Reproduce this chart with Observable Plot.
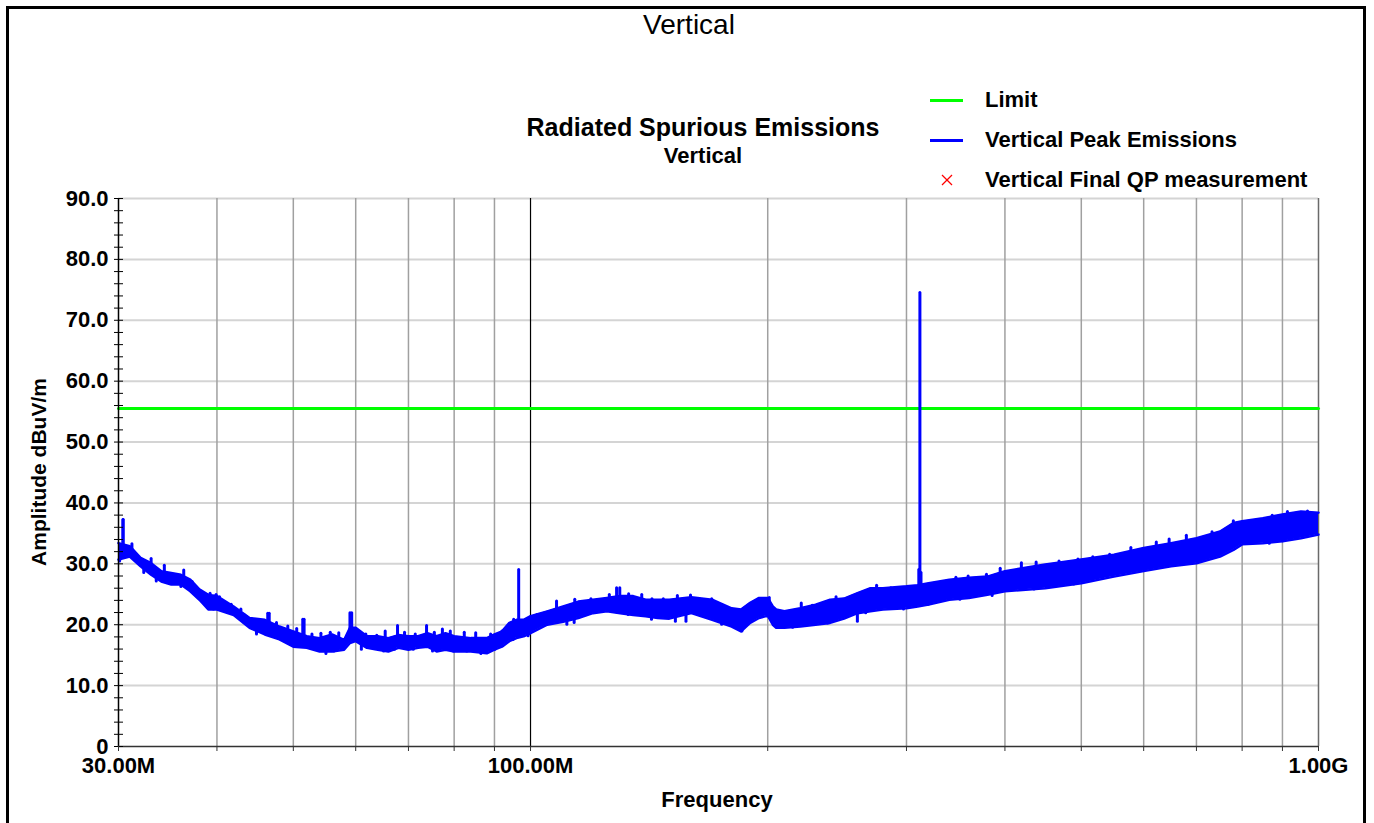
<!DOCTYPE html>
<html><head><meta charset="utf-8">
<script src="https://cdn.jsdelivr.net/npm/d3@7"></script>
<script src="https://cdn.jsdelivr.net/npm/@observablehq/plot@0.6"></script>
<style>
html,body{margin:0;padding:0;background:#fff;}
#wrap{position:relative;width:1374px;height:823px;overflow:hidden;font-family:"Liberation Sans",Arial,sans-serif;}
#wrap svg{position:absolute;left:0;top:0;}
.border{position:absolute;left:6px;top:6px;width:1354px;height:840px;border:3px solid #000;border-bottom:none;}
.t{position:absolute;white-space:nowrap;color:#000;line-height:1;transform:translate(-50%,-50%);}
.l{position:absolute;white-space:nowrap;color:#000;line-height:1;transform:translate(0,-50%);font-weight:bold;font-size:22px;}
.sw{position:absolute;height:3px;width:33px;}
</style></head><body><div id="wrap"></div>
<script>
// ---- data (MHz, dBuV/m) ----
// envelope of the peak-emission trace
const traceFreq = [30,31,32,33,34,35,36,37,38,39,40,42,44,46,48,50,52,54,56,58,59,60,62,64,66,68,70,72,74,76,78,80,84,88,90,92,94,96,98,100,105,110,115,120,125,130,135,140,145,150,160,170,180,185,190,195,200,203,205,210,220,230,240,250,260,270,280,300,310,320,340,360,380,400,450,500,550,600,650,700,750,780,800,850,900,950,1000];
const traceHigh = [33.4,32.9,31.0,30.1,28.8,28.5,28.2,27.4,25.8,24.9,24.7,23.0,21.1,20.8,19.7,18.9,18.1,17.8,18.4,17.5,19.5,19.5,18.1,18.1,17.8,18.3,18.1,18.1,18.6,18.1,18.6,18.1,17.8,17.8,18.4,18.9,20.3,20.8,20.8,21.4,22.2,23.0,23.8,24.1,24.4,24.7,24.7,24.1,24.1,24.1,24.5,24.1,22.7,22.5,23.6,24.4,24.4,23.0,22.5,22.2,22.7,23.3,24.1,24.3,25.2,26.0,26.0,26.3,26.5,26.8,27.4,27.7,27.9,28.8,29.9,30.7,31.5,32.6,33.4,34.2,35.3,36.7,37.0,37.5,38.1,38.6,38.4];
const traceLow  = [30.7,31.2,29.6,28.2,27.1,26.6,26.6,25.5,24.1,22.5,22.5,21.6,19.5,18.4,17.6,16.4,16.2,15.6,15.6,15.9,17.0,17.3,16.2,15.9,15.6,16.2,15.9,16.2,16.4,15.6,15.9,15.6,15.6,15.3,15.9,16.4,17.3,17.8,18.1,18.6,20.0,20.5,21.1,21.9,22.2,21.9,21.6,21.4,21.1,21.0,21.9,20.8,19.7,18.9,20.3,21.1,21.5,20.0,19.5,19.5,19.7,20.0,20.3,21.0,21.9,22.2,22.5,22.7,23.0,23.3,24.1,24.4,24.9,25.5,26.0,26.8,27.9,28.8,29.6,30.1,31.2,32.3,33.2,33.4,33.7,34.2,34.8];

// individual peaks and dips of the noisy trace
const noiseFreq = [30.1,30.4,31.2,32.3,33.0,33.5,34.3,35.6,36.0,36.3,37.2,37.3,37.6,38.8,39.2,39.6,39.9,40.3,41.7,42.9,43.3,43.6,44.9,46.6,47.6,47.7,49.2,49.4,50.5,50.6,51.6,52.8,53.6,54.2,55.0,55.7,56.3,57.1,57.8,59.3,61.0,61.8,63.8,65.1,65.4,67.2,67.8,69.2,71.0,71.4,73.8,75.1,75.5,77.3,79.1,79.8,82.4,83.0,85.2,86.5,89.0,90.1,92.0,95.0,95.2,99.3,101.9,107.9,111.2,113.6,113.8,119.3,125.9,129.8,133.0,133.2,138.4,142.4,142.6,147.4,152.7,153.6,157.5,159.6,169.8,174.8,177.1,185.5,194.3,200.9,209.6,215.1,220.6,227.8,238.2,244.2,253.5,259.9,264.6,266.3,274.9,286.6,297.4,302.9,319.7,327.4,346.6,350.7,359.2,379.0,385.3,394.5,419.7,435.5,438.2,468.5,489.0,495.1,517.1,543.2,549.9,577.9,622.5,622.7,646.3,679.7,689.4,732.6,772.4,779.7,819.6,866.0,873.5,900.1,913.3,968.3,993.5];
const noiseAmp  = [30.4,37.2,33.2,28.5,30.8,27.1,29.7,28.1,26.2,28.9,27.0,25.5,26.2,24.1,25.1,22.5,24.9,24.5,23.3,22.5,21.6,21.3,18.4,21.8,20.3,18.1,19.7,17.5,19.3,16.4,20.8,18.4,15.9,18.5,15.2,18.7,15.6,18.6,15.9,21.9,15.9,18.4,18.2,15.6,18.9,15.9,19.8,18.7,15.9,18.4,19.8,15.6,18.7,19.2,18.9,15.6,18.7,15.6,18.6,15.2,18.4,15.9,18.9,17.5,20.8,18.1,21.6,23.8,20.0,20.3,24.1,24.2,24.9,26.0,21.6,25.0,24.9,20.8,24.2,24.2,20.5,24.7,20.5,24.8,24.2,20.0,22.7,18.9,24.1,24.4,19.5,19.5,23.5,23.1,20.2,24.5,23.8,20.5,24.9,21.9,26.4,26.0,22.5,26.2,23.3,26.7,27.7,24.1,27.9,28.2,24.7,29.2,30.1,25.8,30.2,30.4,26.6,30.7,31.1,31.5,28.2,32.6,33.5,29.5,34.0,34.6,30.4,35.2,32.6,37.0,36.8,33.3,37.9,33.7,38.5,38.6,34.8];

// narrow emission spikes
const spikeFreq = [30.4,46.4,51.4,59,96.6,128.6,311,312,313];
const spikeBase = [31,19.0,16.8,17.5,18.0,22.0,24.0,24.0,24.0];
const spikePeak = [37.2,21.8,20.8,21.9,29.0,26.0,29.0,74.5,28.5];

const limitFreq = [30, 1000];
const limitLevel = [55.5, 55.5];

const yMajor = [0,10,20,30,40,50,60,70,80,90];
const yTickLabels = ["0","10.0","20.0","30.0","40.0","50.0","60.0","70.0","80.0","90.0"];
const yMinor = [0,2,4,6,8,10,12,14,16,18,20,22,24,26,28,30,32,34,36,38,40,42,44,46,48,50,52,54,56,58,60,62,64,66,68,70,72,74,76,78,80,82,84,86,88,90];
const xGrid = [40,50,60,70,80,90,200,300,400,500,600,700,800,900];
const xTickValues = [30,100,1000];
const xTickLabels = ["30.00M","100.00M","1.00G"];

const seriesNames = ["Limit","Vertical Peak Emissions","Vertical Final QP measurement"];
const seriesColors = ["#00ff00","#0000ff","#ff0000"];

// ---- build ----
const trace = traceFreq.map((f,i)=>({f, hi:traceHigh[i], lo:traceLow[i]}));
// each peak/dip is drawn as a short stroke reaching back into the band (nearest envelope sample)
const nearestBand = f => {
  let best = 0;
  traceFreq.forEach((g,i)=>{ if (Math.abs(Math.log(g/f)) < Math.abs(Math.log(traceFreq[best]/f))) best = i; });
  return (traceHigh[best] + traceLow[best]) / 2;
};
const noise = noiseFreq.map((f,i)=>({f, v:noiseAmp[i], mid:nearestBand(f)}));
const spikes = spikeFreq.map((f,i)=>({f, base:spikeBase[i], peak:spikePeak[i]}));
const limit = limitFreq.map((f,i)=>({f, v:limitLevel[i]}));
const font = "'Liberation Sans', Arial, sans-serif";
const BLUE = "#0000ff";

const chart = Plot.plot({
  width:1374, height:823,
  marginLeft:118, marginRight:56, marginTop:198, marginBottom:77,
  x:{type:"log", domain:[30,1000], label:null},
  y:{domain:[0,90], label:null},
  style:{fontFamily:font, fontSize:"22px", fontWeight:"bold", color:"#000", background:"transparent", overflow:"visible"},
  marks:[
    Plot.ruleY(yMajor.filter(d=>d>0), {stroke:"#d4d4d4", strokeWidth:2, strokeOpacity:1}),
    Plot.ruleX(xGrid, {stroke:"#a0a0a0", strokeWidth:1.5, strokeOpacity:1}),
    Plot.ruleX([100], {stroke:"#000", strokeWidth:1.2, strokeOpacity:1}),
    Plot.ruleX([1000], {stroke:"#6a6a6a", strokeWidth:1.5, strokeOpacity:1}),
    Plot.line(limit, {x:"f", y:"v", stroke:"#00ff00", strokeWidth:3}),
    Plot.areaY(trace, {x:"f", y1:"lo", y2:"hi", fill:BLUE, fillOpacity:1}),
    Plot.line(trace, {x:"f", y:"hi", stroke:BLUE, strokeWidth:2.5}),
    Plot.line(trace, {x:"f", y:"lo", stroke:BLUE, strokeWidth:2.5}),
    Plot.ruleX(noise, {x:"f", y1:"mid", y2:"v", stroke:BLUE, strokeWidth:3, strokeOpacity:1, strokeLinecap:"round"}),
    Plot.ruleX(spikes, {x:"f", y1:"base", y2:"peak", stroke:BLUE, strokeWidth:3, strokeOpacity:1, strokeLinecap:"round"}),
    Plot.ruleX([30], {stroke:"#000", strokeWidth:1.5, strokeOpacity:1}),
    Plot.ruleY([0], {stroke:"#333", strokeWidth:1.5, strokeOpacity:1}),
    Plot.axisY({ticks:yMinor, tickSize:9, dx:5, tickFormat:()=>"", label:null, stroke:"#000"}),
    Plot.axisY({ticks:yMajor, tickSize:0, tickPadding:10, tickFormat:d=>yTickLabels[yMajor.indexOf(d)], label:null, fontSize:22, fontWeight:"bold", fill:"#000"}),
    Plot.axisX({ticks:xGrid.concat(xTickValues), tickSize:5, tickFormat:()=>"", label:null, stroke:"#333"}),
    Plot.axisX({ticks:xTickValues, tickSize:0, tickPadding:11, tickFormat:d=>xTickLabels[xTickValues.indexOf(d)], label:null, fontSize:22, fontWeight:"bold", fill:"#000"})
  ]
});

const wrap = document.getElementById("wrap");
wrap.appendChild(chart);

function addText(cls, txt, x, y, css){
  const d = document.createElement("div");
  d.className = cls; d.textContent = txt;
  d.style.left = x+"px"; d.style.top = y+"px";
  Object.assign(d.style, css||{});
  wrap.appendChild(d);
  return d;
}
const b = document.createElement("div"); b.className="border"; wrap.appendChild(b);

addText("t","Vertical",689,25,{fontSize:"28px"});
addText("t","Radiated Spurious Emissions",703,127,{fontSize:"25px",fontWeight:"bold"});
addText("t","Vertical",703,156,{fontSize:"22px",fontWeight:"bold"});
addText("t","Frequency",717,800,{fontSize:"22px",fontWeight:"bold"});
addText("t","Amplitude dBuV/m",38,472,{fontSize:"21px",fontWeight:"bold",transform:"translate(-50%,-50%) rotate(-90deg)"});

// legend
const legY = [100,140,180];
seriesNames.forEach((name,i)=>{
  if(i<2){
    const s = document.createElement("div"); s.className="sw";
    s.style.left="930px"; s.style.top=(legY[i]-1.5)+"px"; s.style.background=seriesColors[i];
    wrap.appendChild(s);
  } else {
    const ns="http://www.w3.org/2000/svg";
    const sv=document.createElementNS(ns,"svg");
    sv.setAttribute("width","12"); sv.setAttribute("height","12");
    sv.style.position="absolute"; sv.style.left="941px"; sv.style.top=(legY[i]-6)+"px";
    [["1","1","11","11"],["11","1","1","11"]].forEach(c=>{
      const ln=document.createElementNS(ns,"line");
      ln.setAttribute("x1",c[0]);ln.setAttribute("y1",c[1]);ln.setAttribute("x2",c[2]);ln.setAttribute("y2",c[3]);
      ln.setAttribute("stroke",seriesColors[i]);ln.setAttribute("stroke-width","1.2");
      sv.appendChild(ln);
    });
    wrap.appendChild(sv);
  }
  addText("l",name,985,legY[i]);
});
</script></body></html>
